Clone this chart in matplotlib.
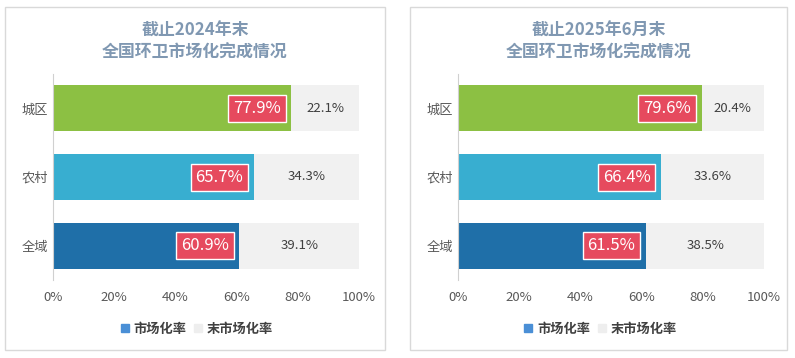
import matplotlib.pyplot as plt
from matplotlib.patches import Rectangle
from matplotlib.lines import Line2D

plt.rcParams['font.family'] = ['Noto Sans CJK SC', 'DejaVu Sans']

categories = ['全域', '农村', '城区']
bar_colors = ['#1f6fa8', '#38aed0', '#8cc043']
titles = ['截止2024年末\n全国环卫市场化完成情况', '截止2025年6月末\n全国环卫市场化完成情况']
rates_2024 = [60.9, 65.7, 77.9]
rates_2025 = [61.5, 66.4, 79.6]
series = [rates_2024, rates_2025]
xticks = [0, 20, 40, 60, 80, 100]

W, H = 795, 358
fig = plt.figure(figsize=(W / 100, H / 100), dpi=100)

panels = [(5, 385), (410, 787)]
axes_left = [53, 458]

for i, rates in enumerate(series):
    x0, x1 = panels[i]
    fig.patches.append(Rectangle((x0 / W, 1 - 350 / H), (x1 - x0) / W, 343 / H,
                                 transform=fig.transFigure, fill=False,
                                 edgecolor='#d9d9d9', lw=1))
    ax = fig.add_axes([axes_left[i] / W, 1 - 280 / H, 306 / W, 206 / H])
    rest = [100 - r for r in rates]
    ax.barh(categories, rates, height=0.67, color=bar_colors)
    ax.barh(categories, rest, left=rates, height=0.67, color='#f1f1f1')
    for y, (r, q) in enumerate(zip(rates, rest)):
        ax.text(r - 3.5, y, f'{r}%', ha='right', va='center', color='white',
                fontsize=12,
                bbox=dict(boxstyle='square,pad=0.3', facecolor='#e64a5e',
                          edgecolor='white', lw=1))
        ax.text(r + q / 2, y, f'{q:.1f}%', ha='center', va='center',
                color='#404040', fontsize=9.5)
    ax.set_xlim(0, 100)
    ax.set_ylim(-0.5, 2.5)
    ax.set_xticks(xticks)
    ax.set_xticklabels([f'{t}%' for t in xticks])
    ax.tick_params(length=0, colors='#595959', labelsize=9.5)
    ax.tick_params(axis='x', pad=8)
    for s in ['top', 'right', 'bottom']:
        ax.spines[s].set_visible(False)
    ax.spines['left'].set_color('#d0d0d0')
    cx = (x0 + x1) / 2 / W
    fig.text(cx, 1 - 42 / H, titles[i], ha='center', va='center',
             fontsize=12.2, fontweight='bold', color='#8098b2', linespacing=1.3)
    handles = [Line2D([], [], marker='s', ls='', color='#4a8fd6', markersize=6),
               Line2D([], [], marker='s', ls='', color='#eeeeee', markersize=6)]
    fig.legend(handles, ['市场化率', '末市场化率'], loc='center',
               bbox_to_anchor=(cx, 1 - 329 / H), ncol=2, frameon=False,
               prop={'size': 9.5, 'weight': 'bold'}, handletextpad=0.05,
               columnspacing=0.3, handlelength=1.2, labelcolor='#404040')

fig.savefig('out.png', dpi=100)
